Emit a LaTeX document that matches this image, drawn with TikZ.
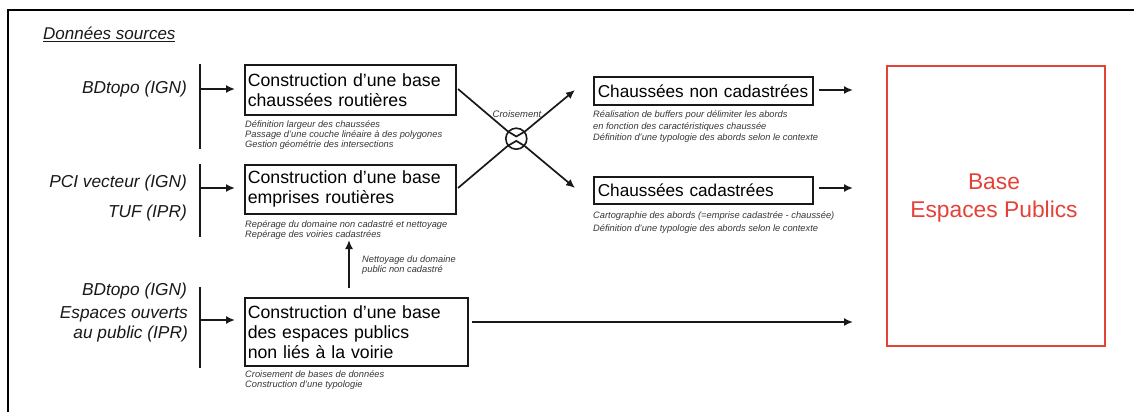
\documentclass[tikz,border=0pt]{standalone}
\usepackage{fontspec}
\setmainfont{Liberation Sans}
\usetikzlibrary{arrows.meta}
\definecolor{redb}{RGB}{228,66,56}
\definecolor{txt}{RGB}{25,25,25}
\definecolor{subtxt}{RGB}{55,55,55}
\begin{document}
\begin{tikzpicture}[x=1pt,y=-1pt,
  conn/.style={line width=1.7pt, draw=txt},
  arr/.style={conn, -{Latex[length=9pt,width=8pt]}},
  procbox/.style={draw=txt, line width=1.6pt, anchor=north west, inner xsep=3pt, inner ysep=0pt,
    align=left, font=\fontsize{17.7}{20}\selectfont, text=black},
  sbox/.style={procbox, inner xsep=4pt, font=\fontsize{17.2}{20}\selectfont},
  note/.style={anchor=north west, inner sep=0pt, align=left, font=\itshape\fontsize{9.3}{10}\selectfont, text=subtxt},
  rnote/.style={note, font=\itshape\fontsize{9.3}{11.5}\selectfont},
  src/.style={anchor=east, inner sep=0pt, align=right, font=\itshape\fontsize{17.3}{20}\selectfont, text=txt},
]
\useasboundingbox (0,0) rectangle (1134,412);
\fill[white] (0,0) rectangle (1134,412);
% frame
\draw[line width=2pt, black] (8,412) -- (8,10) -- (1134,10);

\node[anchor=base west, inner sep=0pt, font=\itshape\fontsize{17}{18}\selectfont, text=txt] (ds) at (43,40) {\underline{Données sources}};

% source labels
\node[src] (s1) at (187,89) {BDtopo (IGN)};
\node[src] (s2) at (187,183) {PCI vecteur (IGN)};
\node[src] (s3) at (187,213) {TUF (IPR)};
\node[src] (s4) at (187,291) {BDtopo (IGN)};
\node[src] (s5) at (188,324) {Espaces ouverts\\au public (IPR)};

% vertical source bars
\coordinate (v1a) at (200,64);  \coordinate (v1b) at (200,149);
\coordinate (v2a) at (200,164); \coordinate (v2b) at (200,237);
\coordinate (v3a) at (200,287); \coordinate (v3b) at (200,368);
\draw[conn] (v1a) -- (v1b);
\draw[conn] (v2a) -- (v2b);
\draw[conn] (v3a) -- (v3b);

% process boxes
\node[procbox, text width=205pt, minimum height=50pt] (b1) at (244,64) {Construction d’une base\\chaussées routières};
\node[procbox, text width=205pt, minimum height=49pt] (b2) at (244,164) {Construction d’une base\\emprises routières};
\node[procbox, text width=217pt, minimum height=68pt] (b3) at (244,297) {Construction d’une base\\des espaces publics\\non liés à la voirie};

\coordinate (h1) at (200,89);  \coordinate (h2) at (200,188); \coordinate (h3) at (200,320);
\draw[arr] (h1) -- ([xshift=-9pt]b1.west |- h1);
\draw[arr] (h2) -- ([xshift=-9pt]b2.west |- h2);
\draw[arr] (h3) -- ([xshift=-9pt]b3.west |- h3);

% notes
\node[note] (n1) at (245,120.5) {Définition largeur des chaussées\\Passage d’une couche linéaire à des polygones\\Gestion géométrie des intersections};
\node[note] (n2) at (245,220.5) {Repérage du domaine non cadastré et nettoyage\\Repérage des voiries cadastrées};
\node[note] (n3) at (245,370.3) {Croisement de bases de données\\Construction d’une typologie};

% upward arrow
\coordinate (u1) at (349,288); \coordinate (u2) at (349,240);
\draw[arr] (u1) -- (u2);
\node[note] (nu) at (362,255.5) {Nettoyage du domaine\\public non cadastré};

% right boxes
\node[sbox, text width=211pt, minimum height=28pt] (cnc) at (593,76) {Chaussées non cadastrées};
\node[sbox, text width=211pt, minimum height=27pt] (cc) at (593,176) {Chaussées cadastrées};
\node[rnote] (n4) at (593,110.5) {Réalisation de buffers pour délimiter les abords\\en fonction des caractéristiques chaussée\\Définition d’une typologie des abords selon le contexte};
\node[rnote, font=\itshape\fontsize{9.3}{12.5}\selectfont] (n5) at (593,211.5) {Cartographie des abords (=emprise cadastrée - chaussée)\\Définition d’une typologie des abords selon le contexte};

% crossing
\node[circle, draw=txt, line width=1.6pt, minimum size=21pt, inner sep=0pt] (cx) at (516.3,138.7) {};
\node[font=\itshape\fontsize{9.5}{11}\selectfont, text=subtxt, inner sep=0pt] (cl) at (517,114) {Croisement};
\coordinate (c1s) at (458,89);  \coordinate (c2s) at (458,188);
\coordinate (c1e) at (575,90);  \coordinate (c2e) at (575,188);
\draw[conn] (c1s) -- (cx.139.6) -- ([yshift=2.2pt]cx.center) -- (cx.40.2);
\draw[arr] (cx.40.2) -- (c1e);
\draw[conn] (c2s) -- (cx.220.2) -- ([yshift=-2.2pt]cx.center) -- (cx.319.6);
\draw[arr] (cx.319.6) -- (c2e);

% outputs
\node[draw=redb, line width=1.6pt, minimum width=218pt, minimum height=280pt, anchor=north west, inner sep=0pt] (base) at (886,65) {};
\node[text=redb, font=\fontsize{22.8}{28}\selectfont, align=center, inner sep=0pt] (basetxt) at (994,198) {Base\\Espaces Publics};

\coordinate (o1s) at (819,90);  \coordinate (o1e) at (853,90);
\coordinate (o2s) at (819,188); \coordinate (o2e) at (853,188);
\coordinate (o3s) at (472,322); \coordinate (o3e) at (853,322);
\draw[arr] (o1s) -- (o1e);
\draw[arr] (o2s) -- (o2e);
\draw[arr] (o3s) -- (o3e);
\end{tikzpicture}
\end{document}
